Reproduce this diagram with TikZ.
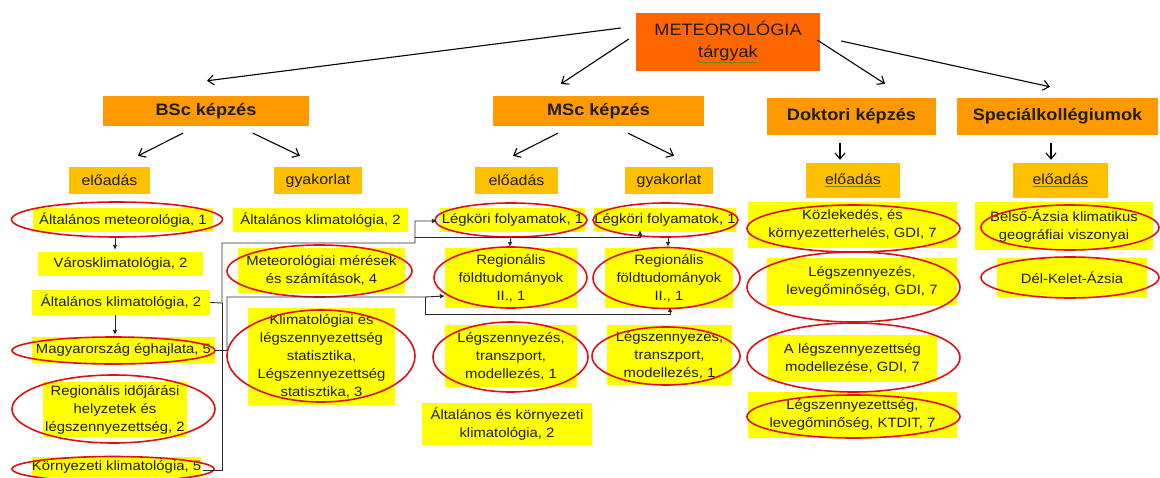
\documentclass[tikz,border=0pt]{standalone}
\usepackage{fontspec}
\setmainfont[FakeStretch=1.1]{Liberation Sans}
\usetikzlibrary{calc,arrows.meta}
\definecolor{meteoc}{HTML}{FF6600}
\definecolor{lvlc}{HTML}{FF9900}
\definecolor{typc}{HTML}{FFC000}
\definecolor{itmc}{HTML}{FFFF00}
\definecolor{ringc}{HTML}{E01010}
\definecolor{inkc}{HTML}{1E1E00}
\definecolor{wirec}{HTML}{2A2A2A}
\definecolor{ulc}{HTML}{808000}
\newcommand{\ulbl}[1]{{\color{ulc}\underline{\color{inkc}#1}}}
\begin{document}
\begin{tikzpicture}[x=1pt,y=-1pt,
  topbox/.style={fill=meteoc, inner sep=0pt, align=center, text=inkc,
    font=\fontsize{16.5}{22}\selectfont},
  lvlbox/.style={fill=lvlc, inner sep=0pt, align=center, text=inkc,
    font=\bfseries\fontsize{16.5}{20}\selectfont},
  typbox/.style={fill=typc, inner sep=0pt, align=center, text=inkc,
    font=\fontsize{14.5}{18}\selectfont},
  itembox/.style={fill=itmc, inner sep=0pt, align=center, text=inkc,
    font=\fontsize{13.5}{18}\selectfont},
  ringst/.style={draw=ringc, line width=1.6pt},
  toparr/.style={draw=black, line width=1.1pt, -{Straight Barb[length=6pt,width=10pt]}},
  downarr/.style={draw=wirec, line width=0.9pt, -{Latex[length=5pt,width=5pt]}},
  wire/.style={draw=wirec, line width=0.9pt},
  wirearr/.style={draw=wirec, line width=0.9pt, -{Latex[length=5pt,width=5pt]}}
]
\useasboundingbox (0,0) rectangle (1160,477);

% top and level boxes
\node[topbox, minimum width=184, minimum height=58] (meteo) at (728,42) {METEOROLÓGIA\\\ulbl{tárgyak}};
\node[lvlbox, minimum width=206, minimum height=30] (bsc) at (206,111) {BSc képzés};
\node[lvlbox, minimum width=211, minimum height=30] (msc) at (598.5,111) {MSc képzés};
\node[lvlbox, minimum width=169, minimum height=37] (dok) at (851.5,116.5) {Doktori képzés};
\node[lvlbox, minimum width=201, minimum height=37] (spec) at (1057.5,116.5) {Speciálkollégiumok};

% type boxes
\node[typbox, minimum width=81, minimum height=27] (bscE) at (109.5,180.5) {előadás};
\node[typbox, minimum width=88, minimum height=27] (bscG) at (318,180.5) {gyakorlat};
\node[typbox, minimum width=83, minimum height=27] (mscE) at (516.5,180.5) {előadás};
\node[typbox, minimum width=88, minimum height=27] (mscG) at (669,180.5) {gyakorlat};
\node[typbox, minimum width=94, minimum height=35] (dokE) at (853,180.5) {\ulbl{előadás}};
\node[typbox, minimum width=95, minimum height=35] (specE) at (1060.5,180.5) {\ulbl{előadás}};

% top arrows
\draw[toparr] ($(meteo.west)+(-15,-14)$) -- ($(bsc.north)+(1,-15)$);
\draw[toparr] ($(meteo.west)+(-7,-3)$) -- ($(msc.north)+(-37.5,-12)$);
\draw[toparr] ($(meteo.east)+(-3,-2)$) -- ($(dok.north)+(33.5,-14)$);
\draw[toparr] ($(meteo.east)+(21,-1)$) -- ($(spec.north)+(-7.5,-11)$);
\draw[toparr] ($(bsc.south)+(-23,7)$) -- ($(bscE.north)+(28.5,-11)$);
\draw[toparr] ($(bsc.south)+(47,7)$) -- ($(bscG.north)+(-18,-11)$);
\draw[toparr] ($(msc.south)+(-40.5,7)$) -- ($(mscE.north)+(-3.5,-11)$);
\draw[toparr] ($(msc.south)+(29.5,7)$) -- ($(mscG.north)+(5,-11)$);
\draw[toparr] ($(dok.south)+(-11.5,8)$) -- ($(dokE.north)+(-13,-3)$);
\draw[toparr] ($(spec.south)+(-6.5,8)$) -- ($(specE.north)+(-9.5,-3)$);

% BSc előadás items
\node[itembox, minimum width=180, minimum height=24] (a1) at (123,220) {Általános meteorológia, 1};
\node[itembox, minimum width=165, minimum height=24] (a2) at (120.5,264) {Városklimatológia, 2};
\node[itembox, minimum width=178, minimum height=25] (a3) at (121,302.5) {Általános klimatológia, 2};
\node[itembox, minimum width=183, minimum height=26] (a4) at (123.5,350) {Magyarország éghajlata, 5};
\node[itembox, minimum width=144, minimum height=55] (a5) at (115,409.5) {Regionális időjárási\\helyzetek és\\légszennyezettség, 2};
\node[itembox, minimum width=167, minimum height=20] (a6) at (116.5,467) {Környezeti klimatológia, 5};

% BSc gyakorlat items
\node[itembox, minimum width=175, minimum height=24] (b1) at (320.5,220) {Általános klimatológia, 2};
\node[itembox, minimum width=167, minimum height=45] (b2) at (321.5,270.5) {Meteorológiai mérések\\és számítások, 4};
\node[itembox, minimum width=147, minimum height=97] (b3) at (321.5,356.5) {Klimatológiai és\\légszennyezettség\\statisztika,\\Légszennyezettség\\statisztika, 3};

% MSc előadás items
\node[itembox, minimum width=145, minimum height=24] (c1) at (512.5,220) {Légköri folyamatok, 1};
\node[itembox, minimum width=132, minimum height=60] (c2) at (511,278) {Regionális\\földtudományok\\II., 1};
\node[itembox, minimum width=132, minimum height=62] (c3) at (511,356) {Légszennyezés,\\transzport,\\modellezés, 1};
\node[itembox, minimum width=170, minimum height=42] (c4) at (507,424) {Általános és környezeti\\klimatológia, 2};

% MSc gyakorlat items
\node[itembox, minimum width=140, minimum height=24] (d1) at (665,220) {Légköri folyamatok, 1};
\node[itembox, minimum width=128, minimum height=60] (d2) at (669,278) {Regionális\\földtudományok\\II., 1};
\node[itembox, minimum width=125, minimum height=60] (d3) at (669.5,355) {Légszennyezés,\\transzport,\\modellezés, 1};

% Doktori items
\node[itembox, minimum width=209, minimum height=46] (e1) at (852.5,225) {Közlekedés, és\\környezetterhelés, GDI, 7};
\node[itembox, minimum width=190, minimum height=47] (e2) at (862,281.5) {Légszennyezés,\\levegőminőség, GDI, 7};
\node[itembox, minimum width=169, minimum height=47] (e3) at (852.5,358.5) {A légszennyezettség\\modellezése, GDI, 7};
\node[itembox, minimum width=209, minimum height=46] (e4) at (852.5,415) {Légszennyezettség,\\levegőminőség, KTDIT, 7};

% Speciálkollégium items
\node[itembox, minimum width=178, minimum height=48] (f1) at (1064,226) {Belső-Ázsia klimatikus\\geográfiai viszonyai};
\node[itembox, minimum width=150, minimum height=39] (f2) at (1072,277.5) {Dél-Kelet-Ázsia};

% red rings
\draw[ringst] (117,219.5) ellipse [x radius=105.5pt, y radius=17.5pt];
\draw[ringst] (113.5,350.5) ellipse [x radius=101.5pt, y radius=13.5pt];
\draw[ringst] (113.5,409) ellipse [x radius=101.5pt, y radius=34pt];
\draw[ringst] (113,469) ellipse [x radius=101pt, y radius=12.5pt];
\draw[ringst] (319.5,271) ellipse [x radius=92.5pt, y radius=26pt];
\draw[ringst] (321,356) ellipse [x radius=94pt, y radius=46pt];
\draw[ringst] (511,220) ellipse [x radius=76pt, y radius=17pt];
\draw[ringst] (510.5,277.5) ellipse [x radius=76.5pt, y radius=30.5pt];
\draw[ringst] (510.5,357) ellipse [x radius=77.5pt, y radius=35pt];
\draw[ringst] (665.5,220) ellipse [x radius=72.5pt, y radius=17pt];
\draw[ringst] (666.5,278) ellipse [x radius=73.5pt, y radius=30.5pt];
\draw[ringst] (666,356) ellipse [x radius=74pt, y radius=29pt];
\draw[ringst] (853.5,228.5) ellipse [x radius=106.5pt, y radius=23.5pt];
\draw[ringst] (853.5,287) ellipse [x radius=106.5pt, y radius=35pt];
\draw[ringst] (853.5,357.5) ellipse [x radius=106.5pt, y radius=34.5pt];
\draw[ringst] (853.5,416.5) ellipse [x radius=106.5pt, y radius=21.5pt];
\draw[ringst] (1070,227.5) ellipse [x radius=89pt, y radius=22.5pt];
\draw[ringst] (1070,277.5) ellipse [x radius=89pt, y radius=20.5pt];

% vertical small arrows
\draw[downarr] ($(a1.south)+(-8,5)$) -- ($(a2.north)+(-5.5,-2)$);
\draw[downarr] ($(a3.south)+(-6,0)$) -- ($(a4.north)+(-8.5,-2)$);
\draw[downarr] ($(c1.south)+(-2.5,5)$) -- ($(c2.north)+(-1,-1)$);
\draw[downarr] ($(d1.south)+(3,5)$) -- ($(d2.north)+(-1,-1)$);

% junction coordinates
\coordinate (jA) at (222,243);
\coordinate (jB) at (415,243);
\coordinate (jC) at (415,237);
\coordinate (jD) at (640,237);
\coordinate (jE) at (227,297);
\coordinate (jF) at (425,297);
\coordinate (jG) at (425,314);
\coordinate (jH) at (670,314);
\coordinate (jI) at (222,303);
\coordinate (jJ) at (227,350);

% connectors
\draw[wire] ($(a6.east)+(2,3)$) -| (jI);
\draw[wirearr] (a3.east) -- (jI) -- (jA) -- (jB) |- ($(c1.west)+(-3,1)$);
\draw[wirearr] (jC) -- (jD) -- ($(d1.south)+(-25,-2)$);
\draw[wire] (a4.east) -- (jJ);
\draw[wirearr] (jJ) -- (jE) -- (jF) -- ($(c2.west)+(0,18)$);
\draw[wirearr] (jF) -- (jG) -- (jH) -- ($(d2.south)+(1,-1)$);
\end{tikzpicture}
\end{document}
